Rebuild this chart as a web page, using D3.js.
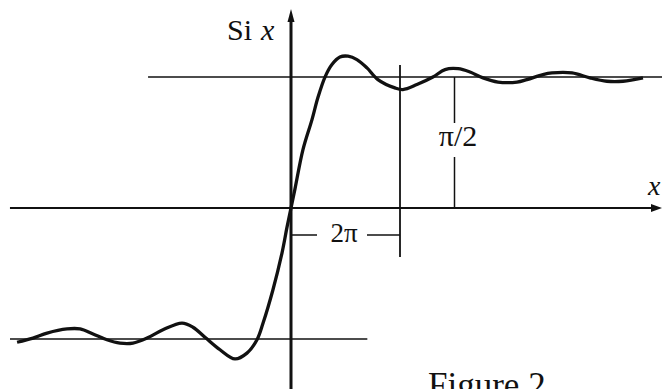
<!DOCTYPE html>
<html>
<head>
<meta charset="utf-8">
<script src="https://cdn.jsdelivr.net/npm/d3@7"></script>
<style>
  html, body { margin: 0; padding: 0; background: #fff; overflow: hidden; }
</style>
</head>
<body>
<div id="plot"></div>
<script>
// Si(x) curve (x in radians, y = Si x)
const siX = [-15.79, -14.87, -14.06, -12.91, -12.16, -11.41, -10.61, -9.86, -9.11, -8.30,
  -7.38, -6.28, -5.65, -4.96, -4.09, -3.23, -2.54, -1.96, -1.61, -1.04, -0.52, -0.23, 0,
  0.23, 0.69, 1.21, 1.56, 1.96, 2.36, 2.82, 3.29, 3.80, 4.38, 5.01, 5.99, 6.45, 7.26,
  8.18, 8.88, 9.63, 10.32, 11.07, 11.93, 13.03, 13.60, 14.52, 15.04, 16.20, 17.23,
  18.21, 19.14, 20.29];
const siY = [-1.61, -1.56, -1.50, -1.45, -1.45, -1.51, -1.58, -1.62, -1.62, -1.56,
  -1.46, -1.38, -1.43, -1.55, -1.70, -1.81, -1.74, -1.58, -1.38, -0.98, -0.54, -0.23, 0,
  0.23, 0.70, 1.06, 1.33, 1.57, 1.72, 1.81, 1.82, 1.78, 1.68, 1.54, 1.44, 1.42, 1.48,
  1.57, 1.66, 1.67, 1.63, 1.56, 1.51, 1.51, 1.54, 1.60, 1.62, 1.62, 1.56,
  1.52, 1.52, 1.56];

// marked values
const markTwoPi = 2 * Math.PI;
const markHalfPi = Math.PI / 2;
const markThreePi = 3 * Math.PI;
const labels = { yAxis: "Si", xAxis: "x", twoPi: "2π", halfPi: "π/2", caption: "Figure 2" };

const width = 662, height = 389;
const serif = "'Liberation Serif', 'Times New Roman', serif";

const svg = d3.select("#plot")
    .append("svg")
    .attr("width", width)
    .attr("height", height);

const x = d3.scaleLinear()
    .domain([0, markTwoPi])
    .range([291, 400]);
const y = d3.scaleLinear()
    .domain([0, markHalfPi])
    .range([208, 77]);

const ink = "#111";

// asymptotes y = +-pi/2
svg.append("line")
    .attr("x1", x(-8.24)).attr("x2", width)
    .attr("y1", y(markHalfPi)).attr("y2", y(markHalfPi))
    .attr("stroke", ink).attr("stroke-width", 1.5);
svg.append("line")
    .attr("x1", x(-16.2)).attr("x2", x(4.4))
    .attr("y1", y(-markHalfPi)).attr("y2", y(-markHalfPi))
    .attr("stroke", ink).attr("stroke-width", 1.5);

// x axis with arrow
svg.append("line")
    .attr("x1", x(-16.2)).attr("x2", width - 6)
    .attr("y1", y(0)).attr("y2", y(0))
    .attr("stroke", ink).attr("stroke-width", 2);
svg.append("path")
    .attr("d", `M${width},${y(0)} L${width - 11},${y(0) - 4} L${width - 11},${y(0) + 4} Z`)
    .attr("fill", ink);

// y axis with arrow
svg.append("line")
    .attr("x1", x(0)).attr("x2", x(0))
    .attr("y1", 18).attr("y2", height)
    .attr("stroke", ink).attr("stroke-width", 3);
svg.append("path")
    .attr("d", `M${x(0)},9 L${x(0) - 3.5},22 L${x(0) + 3.5},22 Z`)
    .attr("fill", ink);

// 2pi marker
svg.append("line")
    .attr("x1", x(markTwoPi)).attr("x2", x(markTwoPi))
    .attr("y1", 65).attr("y2", 257)
    .attr("stroke", ink).attr("stroke-width", 1.8);
svg.append("line")
    .attr("x1", x(0)).attr("x2", 317)
    .attr("y1", 235).attr("y2", 235)
    .attr("stroke", ink).attr("stroke-width", 1.5);
svg.append("line")
    .attr("x1", 367).attr("x2", x(markTwoPi))
    .attr("y1", 235).attr("y2", 235)
    .attr("stroke", ink).attr("stroke-width", 1.5);
svg.append("text")
    .attr("x", 344).attr("y", 242)
    .attr("text-anchor", "middle")
    .attr("font-family", serif)
    .attr("font-size", 27)
    .attr("fill", ink)
    .text(labels.twoPi);

// pi/2 marker
svg.append("line")
    .attr("x1", x(markThreePi)).attr("x2", x(markThreePi))
    .attr("y1", y(markHalfPi)).attr("y2", 123)
    .attr("stroke", ink).attr("stroke-width", 1.5);
svg.append("line")
    .attr("x1", x(markThreePi)).attr("x2", x(markThreePi))
    .attr("y1", 157).attr("y2", y(0))
    .attr("stroke", ink).attr("stroke-width", 1.5);
svg.append("text")
    .attr("x", 458).attr("y", 146)
    .attr("text-anchor", "middle")
    .attr("font-family", serif)
    .attr("font-size", 30)
    .attr("fill", ink)
    .text(labels.halfPi);

// the curve
const pts = siX.map((d, i) => [d, siY[i]]);
svg.append("path")
    .datum(pts)
    .attr("fill", "none")
    .attr("stroke", ink)
    .attr("stroke-width", 3.3)
    .attr("stroke-linejoin", "round")
    .attr("d", d3.line()
        .x(d => x(d[0]))
        .y(d => y(d[1]))
        .curve(d3.curveCatmullRom));

// axis labels
const si = svg.append("text")
    .attr("x", 227).attr("y", 40)
    .attr("font-family", serif)
    .attr("font-size", 30)
    .attr("fill", ink);
si.append("tspan").text(labels.yAxis);
si.append("tspan").attr("dx", 9).attr("font-style", "italic").text(labels.xAxis);

svg.append("text")
    .attr("x", 648).attr("y", 195)
    .attr("font-family", serif)
    .attr("font-size", 28)
    .attr("font-style", "italic")
    .attr("fill", ink)
    .text(labels.xAxis);

svg.append("text")
    .attr("x", 428).attr("y", 397)
    .attr("font-family", serif)
    .attr("font-size", 35)
    .attr("fill", ink)
    .text(labels.caption);
</script>
</body>
</html>
